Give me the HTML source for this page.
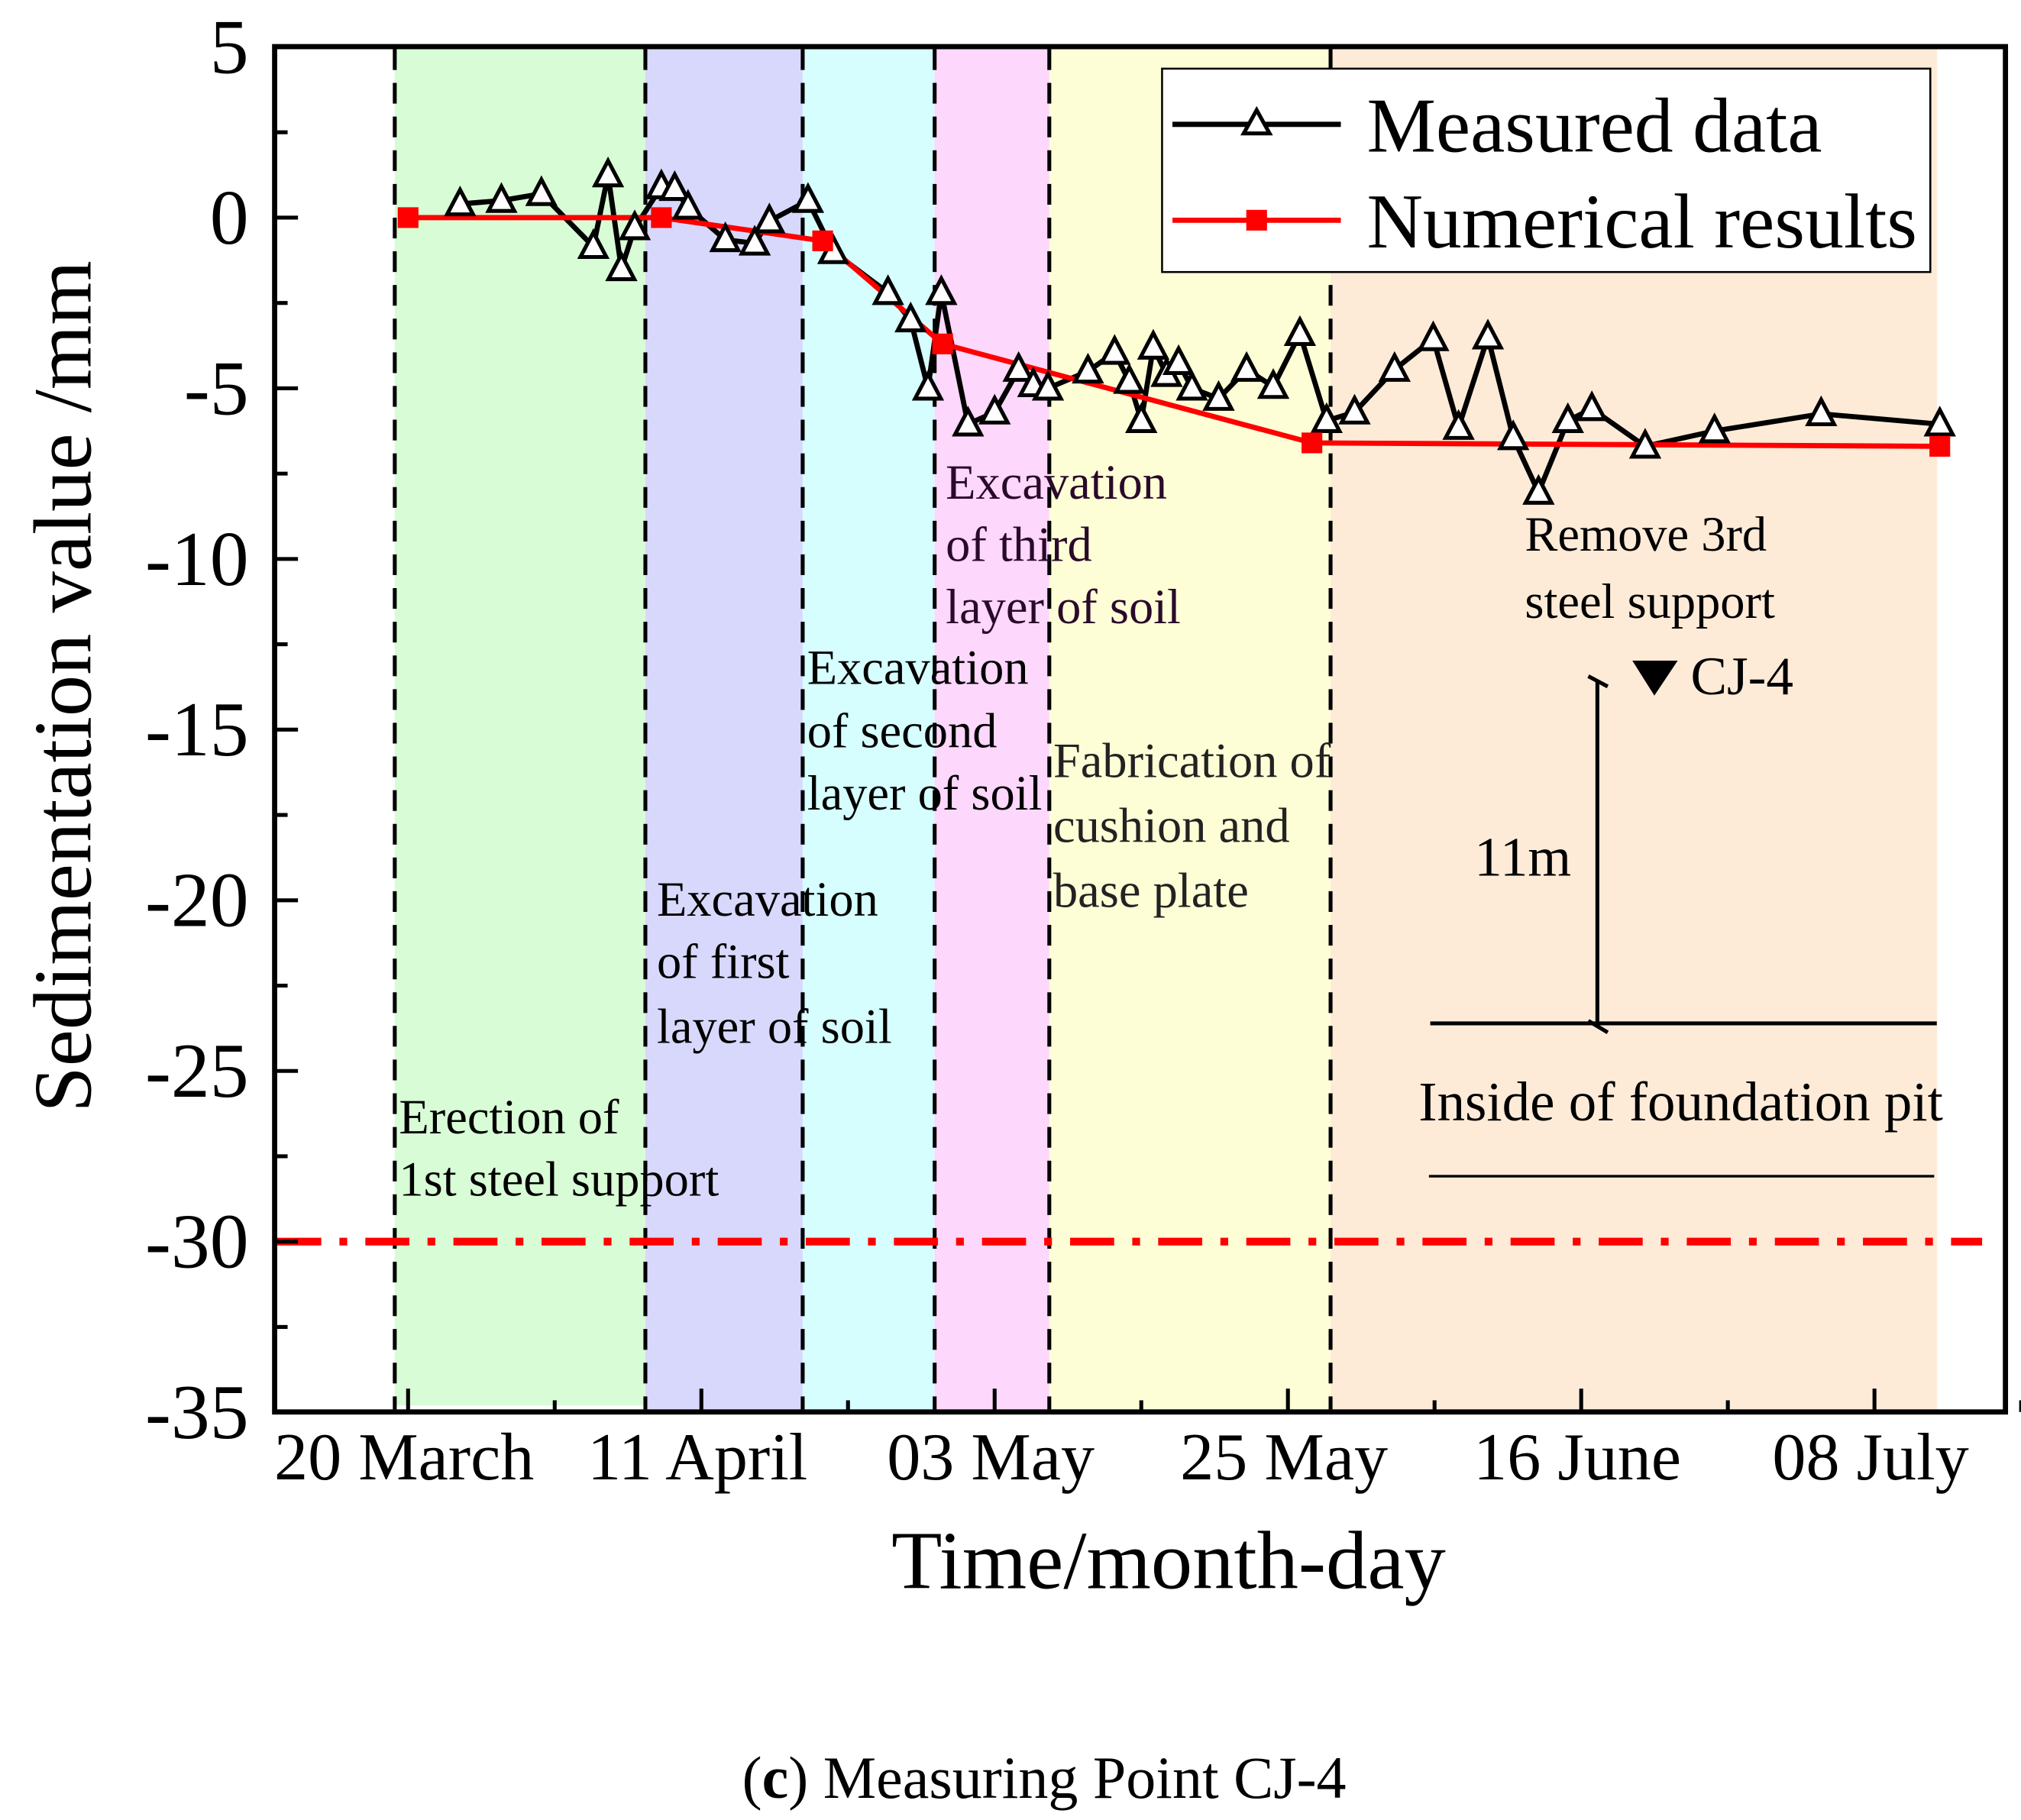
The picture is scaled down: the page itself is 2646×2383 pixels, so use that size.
<!DOCTYPE html>
<html><head><meta charset="utf-8"><style>html,body{margin:0;padding:0;background:#fff}svg{display:block}text{font-family:"Liberation Serif",serif}</style></head>
<body>
<svg id="chart" width="2646" height="2383" viewBox="0 0 1560 1405" preserveAspectRatio="none" xmlns="http://www.w3.org/2000/svg">
<g id="bands"></g>
<g id="grid"></g>
<line id="warn" stroke="#ff0000" stroke-width="6" stroke-dasharray="34,14,6,14"/>
<g id="annot" font-size="38">
<text x="308" y="875">Erection of</text>
<text x="308" y="923">1st steel support</text>
<text x="507" y="707">Excavation</text>
<text x="507" y="755">of first</text>
<text x="507" y="805">layer of soil</text>
<text x="623" y="528">Excavation</text>
<text x="623" y="577">of second</text>
<text x="623" y="625">layer of soil</text>
<text x="730" y="385" fill="#2a0a2a">Excavation</text>
<text x="730" y="433" fill="#2a0a2a">of third</text>
<text x="730" y="481" fill="#2a0a2a">layer of soil</text>
<text x="813" y="600" fill="#222">Fabrication of</text>
<text x="813" y="650" fill="#222">cushion and</text>
<text x="813" y="700" fill="#222">base plate</text>
<text x="1177" y="425">Remove 3rd</text>
<text x="1177" y="477">steel support</text>
<polygon points="1260,510 1295,510 1277,537" fill="#000"/>
<text x="1305" y="536" font-size="42">CJ-4</text>
<line x1="1233" y1="525" x2="1233" y2="792" stroke="#000" stroke-width="3"/>
<line x1="1226" y1="522" x2="1241" y2="530" stroke="#000" stroke-width="3"/>
<line x1="1226" y1="788" x2="1241" y2="797" stroke="#000" stroke-width="3"/>
<text x="1138" y="676" font-size="43">11m</text>
<line x1="1104" y1="790" x2="1495" y2="790" stroke="#000" stroke-width="3"/>
<text x="1095" y="865" font-size="43">Inside of foundation pit</text>
<line x1="1103" y1="908" x2="1493" y2="908" stroke="#000" stroke-width="2"/>
</g>
<g id="series"></g>
<rect x="212" y="36" width="1336" height="1054" fill="none" stroke="#000" stroke-width="4"/>
<g id="axes"></g>
<g>
<rect x="897" y="53" width="593" height="157" fill="#fff" stroke="#000" stroke-width="1.5"/>
<line x1="905" y1="96" x2="1035" y2="96" stroke="#000" stroke-width="4"/>
<polygon points="970,85 960,103 980,103" fill="#fff" stroke="#000" stroke-width="3"/>
<text x="1055" y="117" font-size="60">Measured data</text>
<line x1="905" y1="170" x2="1035" y2="170" stroke="#ff0000" stroke-width="4"/>
<rect x="962" y="162" width="16" height="16" fill="#ff0000"/>
<text x="1055" y="191" font-size="60">Numerical results</text>
</g>
<text transform="translate(70,530) rotate(-90)" text-anchor="middle" font-size="64">Sedimentation value /mm</text>
<text x="902" y="1226" text-anchor="middle" font-size="64">Time/month-day</text>
<text x="806" y="1388" text-anchor="middle" font-size="46">(<tspan font-weight="bold">c</tspan>) Measuring Point CJ-4</text>
</svg>
<script>
const measuredDays=[3.9,7,10,13.9,15,16,17,19,20,21,23.8,26,27.1,30,31.9,36,37.7,39,40,42,44,45.8,46.9,48,51,53,54.1,55,55.9,56.9,57.8,58.8,60.8,62.9,64.9,66.9,68.9,71,74,76.9,78.8,81,82.9,84.8,87,88.8,92.8,98,106,114.9];
const measuredVals=[0.4,0.5,0.7,-0.85,1.25,-1.5,-0.3,0.9,0.85,0.3,-0.65,-0.75,-0.1,0.5,-1.0,-2.2,-3.0,-5.0,-2.2,-6.05,-5.7,-4.45,-4.9,-5.0,-4.5,-3.95,-4.8,-5.95,-3.8,-4.6,-4.25,-5.0,-5.3,-4.45,-4.95,-3.4,-5.95,-5.7,-4.45,-3.55,-6.15,-3.5,-6.45,-8.05,-5.95,-5.6,-6.7,-6.25,-5.75,-6.05];
const numericalDays=[0,19,31.1,40.1,67.8,114.9];
const numericalVals=[0,0,-0.68,-3.7,-6.6,-6.7];
const stageBounds=[-1,17.8,29.6,39.5,48.1,69.2,114.7];
const stageColors=['#d8fcd6','#d8d8fc','#d6fefe','#fdd7fc','#fefed6','#fdebd8'];
const dividerDays=[-1,17.8,29.6,39.5,48.1,69.2];
const xTickDays=[0,22,44,66,88,110];
const xTickLabels=['20 March','11 April','03 May','25 May','16 June','08 July'];
const yTicks=[5,0,-5,-10,-15,-20,-25,-30,-35];
const warningValue=-30;

const NS='http://www.w3.org/2000/svg';
const X=d=>315+d*10.29;
const Y=v=>168-v*26.35;
function mk(t,a,p){const e=document.createElementNS(NS,t);for(const k in a)e.setAttribute(k,a[k]);p.appendChild(e);return e;}
const bands=document.getElementById('bands');
for(let i=0;i<stageColors.length;i++){
 const r=mk('rect',{x:X(stageBounds[i]),y:38,width:X(stageBounds[i+1])-X(stageBounds[i]),height:(i==0?1085:1090)-38,fill:stageColors[i]},bands);
 
 
}
const grid=document.getElementById('grid');
dividerDays.forEach(d=>{const l=mk('line',{x1:X(d),y1:38,x2:X(d),y2:1088,stroke:'#000','stroke-width':3,'stroke-dasharray':'16,10'},grid);
 
 });
const w=document.getElementById('warn');
w.setAttribute('x1',214);w.setAttribute('x2',1530);w.setAttribute('y1',Y(warningValue));w.setAttribute('y2',Y(warningValue));
const s=document.getElementById('series');
const mp=mk('polyline',{points:measuredDays.map((d,i)=>X(d)+','+Y(measuredVals[i])).join(' '),fill:'none',stroke:'#000','stroke-width':4,'stroke-linejoin':'round'},s);


const np=mk('polyline',{points:numericalDays.map((d,i)=>X(d)+','+Y(numericalVals[i])).join(' '),fill:'none',stroke:'#ff0000','stroke-width':4},s);


measuredDays.forEach((d,i)=>{const x=X(d),y=Y(measuredVals[i]);
 const t=mk('polygon',{points:`${x},${y-11} ${x-10},${y+8} ${x+10},${y+8}`,fill:'#fff',stroke:'#000','stroke-width':3},s);
 
 });
numericalDays.forEach((d,i)=>{const q=mk('rect',{x:X(d)-8,y:Y(numericalVals[i])-8,width:16,height:16,fill:'#ff0000'},s);
 
 });
const ax=document.getElementById('axes');
yTicks.forEach(v=>{const y=Y(v);
 const l=mk('line',{x1:212,y1:y,x2:230,y2:y,stroke:'#000','stroke-width':3},ax);
 
 
 const t=mk('text',{x:192,y:y+20,'text-anchor':'end','font-size':60},ax);t.textContent=v;
 
 
 if(v>-35){const m=mk('line',{x1:212,y1:Y(v-2.5),x2:222,y2:Y(v-2.5),stroke:'#000','stroke-width':3},ax);
 
 }
});
xTickDays.forEach((d,i)=>{const x=X(d);
 const l=mk('line',{x1:x,y1:1090,x2:x,y2:1072,stroke:'#000','stroke-width':3},ax);
 
 
 const m=mk('line',{x1:X(d+11),y1:1090,x2:X(d+11),y2:1081,stroke:'#000','stroke-width':3},ax);
 
 
 const t=mk('text',{x:x-3,y:1142,'text-anchor':'middle','font-size':52},ax);t.textContent=xTickLabels[i];
 
 
});
</script>
</body></html>
